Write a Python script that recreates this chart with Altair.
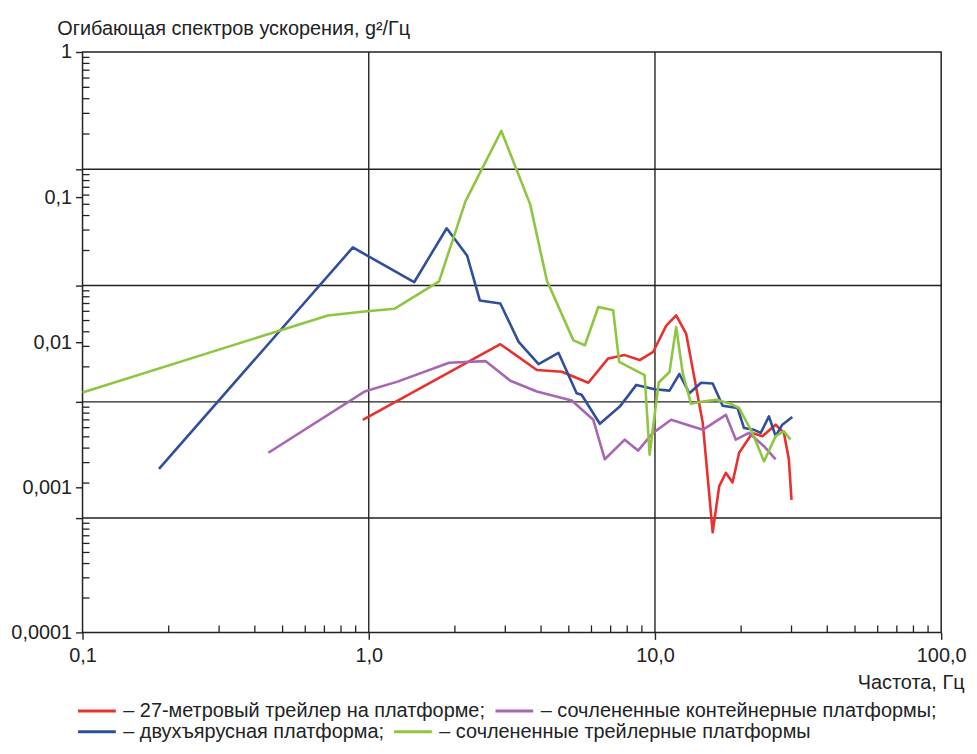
import math
import altair as alt
import pandas as pd

# ---- data (frequency, Hz ; PSD envelope, g^2/Hz) ----
red_f = [0.953, 2.883, 3.868, 4.728, 5.850, 6.865, 7.841, 8.842, 9.86, 10.95, 11.86, 12.85,
         14.69, 15.91, 16.77, 17.69, 18.67, 19.68, 21.91, 23.74, 26.40, 28.22, 29.36, 30.00]
red_v = [0.00292, 0.00969, 0.00643, 0.00626, 0.00526, 0.00773, 0.00815, 0.00753, 0.00859, 0.0130,
         0.0153, 0.01148, 0.00277, 0.00049, 0.00102, 0.00126, 0.00108, 0.00173, 0.00237, 0.00225,
         0.00270, 0.00237, 0.00156, 0.00082]

blue_f = [0.185, 0.880, 1.441, 1.872, 2.208, 2.444, 2.883, 3.340, 3.921, 4.601, 5.325, 5.543,
          6.418, 7.534, 8.610, 9.97, 11.24, 12.17, 13.19, 14.49, 15.91, 17.24, 19.43, 20.48,
          22.19, 23.42, 25.02, 26.40, 27.86, 30.18]
blue_v = [0.00134, 0.0450, 0.0259, 0.0610, 0.0394, 0.0194, 0.0185, 0.01005, 0.00707, 0.00845,
          0.00445, 0.00434, 0.00274, 0.00360, 0.00508, 0.00474, 0.00464, 0.00604, 0.00445, 0.00526,
          0.00520, 0.00365, 0.00352, 0.00256, 0.00249, 0.00237, 0.00308, 0.00225, 0.00270, 0.00305]

green_f = [0.1, 0.720, 0.966, 1.229, 1.761, 2.179, 2.906, 3.665, 4.191, 5.188, 5.691, 6.339,
           7.145, 7.497, 9.20, 9.58, 10.31, 11.24, 11.86, 12.51, 13.37, 14.69, 16.34, 18.17,
           19.68, 21.91, 24.04, 26.40, 28.22, 29.77]
green_v = [0.00450, 0.0153, 0.0163, 0.0170, 0.0263, 0.0939, 0.286, 0.0891, 0.0266, 0.0103,
           0.00953, 0.0175, 0.0166, 0.00733, 0.00594, 0.00168, 0.00528, 0.00623, 0.0127, 0.00610,
           0.00376, 0.00390, 0.00401, 0.00380, 0.00352, 0.00237, 0.00151, 0.00225, 0.00243, 0.00213]

purple_f = [0.446, 0.966, 1.261, 1.908, 2.557, 3.123, 3.868, 5.118, 6.090, 6.679, 7.841, 8.728,
            9.84, 11.39, 14.69, 17.69, 19.17, 21.32, 24.04, 26.40]
purple_v = [0.00173, 0.00457, 0.00535, 0.00722, 0.00741, 0.00543, 0.00457, 0.00396, 0.00292,
            0.00156, 0.00213, 0.00179, 0.00237, 0.00292, 0.00249, 0.00316, 0.00213, 0.00237,
            0.00192, 0.00156]

row1_labels = ["– 27-метровый трейлер на платформе;", "– сочлененные контейнерные платформы;"]
row1_colors = ["#e8302c", "#a865b3"]
row2_labels = ["– двухъярусная платформа;", "– сочлененные трейлерные платформы"]
row2_colors = ["#2f4e9c", "#8dc640"]

x_major = [0.1, 1, 10, 100]
x_minor = [0.2, 0.3, 0.4, 0.5, 0.6, 0.7, 0.8, 0.9, 2, 3, 4, 5, 6, 7, 8, 9,
           20, 30, 40, 50, 60, 70, 80, 90]
x_grid = [1, 10]

y_labels = [1, 0.1, 0.01, 0.001, 0.0001]
y_grid = [0.1555, 0.0246, 0.00388, 0.000614]
# minor ticks of the printed grid, spread log-wise between its own grid lines
_bounds = [1] + y_grid + [0.0001]
y_minor = [_bounds[k + 1] * (_bounds[k] / _bounds[k + 1]) ** math.log10(m)
           for k in range(5) for m in range(2, 10)]

# ---- tables ----
def table(pairs):
    rows = []
    for lab, fs, vs in pairs:
        for i, (f, v) in enumerate(zip(fs, vs)):
            rows.append({"f": f, "v": v, "s": lab, "i": i})
    return pd.DataFrame(rows)

df1 = table([(row1_labels[0], red_f, red_v), (row1_labels[1], purple_f, purple_v)])
df2 = table([(row2_labels[0], blue_f, blue_v), (row2_labels[1], green_f, green_v)])

FONT = "Liberation Sans"
INK = "#222222"
FS = 20
W, H = 864, 584

xs = alt.Scale(type="log", domain=[0.1, 100])
ys = alt.Scale(type="log", domain=[0.0001, 1])

x_label_expr = ("datum.value == 0.1 ? '0,1' : datum.value == 1 ? '1,0' : "
                "datum.value == 10 ? '10,0' : '100,0'")
y_label_expr = ("datum.value == 1 ? '1' : datum.value == 0.1 ? '0,1' : "
                "datum.value == 0.01 ? '0,01' : datum.value == 0.001 ? '0,001' : "
                "datum.value == 0.0001 ? '0,0001' : ''")

X_TITLE = "Частота, Гц"
Y_TITLE = "Огибающая спектров ускорения, g²/Гц"

x_axis = alt.Axis(
    values=x_major, labelExpr=x_label_expr, tickSize=7, labelPadding=6,
    labelFlush=False, labelOverlap=False, grid=False, domain=False,
    labelFont=FONT, labelFontSize=FS, labelColor=INK, tickColor=INK, tickWidth=1.4,
    titleFont=FONT, titleFontSize=FS, titleFontWeight="normal", titleColor=INK,
    titleX=887, titleY=56, titleAlign="right", titleBaseline="alphabetic")
y_axis = alt.Axis(
    values=y_labels + y_grid, labelExpr=y_label_expr, tickSize=7, labelPadding=4,
    labelOverlap=False, grid=False, domain=False,
    labelFont=FONT, labelFontSize=FS, labelColor=INK, tickColor=INK, tickWidth=1.4,
    titleFont=FONT, titleFontSize=FS, titleFontWeight="normal", titleColor=INK,
    titleAngle=0, titleX=-26, titleY=-18, titleAlign="left", titleBaseline="alphabetic")

X = lambda field: alt.X(field, scale=xs, axis=x_axis, title=X_TITLE)
Y = lambda field: alt.Y(field, scale=ys, axis=y_axis, title=Y_TITLE)

hgrid = alt.Chart(pd.DataFrame({"v": y_grid})).mark_rule(color=INK, strokeWidth=1.4).encode(
    y=Y("v:Q"))
vgrid = alt.Chart(pd.DataFrame({"f": x_grid})).mark_rule(color=INK, strokeWidth=1.4).encode(
    x=X("f:Q"))
yminor = alt.Chart(pd.DataFrame({"v": y_minor})).mark_rule(color=INK, strokeWidth=1.3).encode(
    y=Y("v:Q"), x=alt.value(0), x2=alt.value(7))
xminor = alt.Chart(pd.DataFrame({"f": x_minor})).mark_rule(color=INK, strokeWidth=1.3).encode(
    x=X("f:Q"), y=alt.value(H), y2=alt.value(H - 7))


def legend(ly):
    return alt.Legend(
        title=None, orient="none", legendX=-6, legendY=ly, direction="horizontal",
        symbolType="stroke", symbolSize=1444, symbolStrokeWidth=3,
        labelFontSize=FS, labelFont=FONT, labelColor=INK, labelOffset=6,
        columnPadding=8, clipHeight=20, labelLimit=800, padding=0, symbolOffset=0)


lines1 = alt.Chart(df1).mark_line(strokeWidth=2.6, strokeJoin="round").encode(
    x=X("f:Q"), y=Y("v:Q"),
    color=alt.Color("s:N", scale=alt.Scale(domain=row1_labels, range=row1_colors),
                    legend=legend(653)),
    order=alt.Order("i:Q"),
)
lines2 = alt.Chart(df2).mark_line(strokeWidth=2.6, strokeJoin="round").encode(
    x=X("f:Q"), y=Y("v:Q"),
    color=alt.Color("s:N", scale=alt.Scale(domain=row2_labels, range=row2_colors),
                    legend=legend(674)),
    order=alt.Order("i:Q"),
)

chart = alt.layer(hgrid, vgrid, yminor, xminor, lines1, lines2).resolve_scale(
    color="independent"
).resolve_legend(color="independent").properties(
    width=W, height=H, background="white",
    autosize=alt.AutoSizeParams(type="none"),
    padding={"left": 75, "top": 42, "right": 28, "bottom": 111},
).configure_view(stroke=INK, strokeWidth=1.5)

chart.save("out.html", embed_options={"renderer": "svg", "actions": False})
